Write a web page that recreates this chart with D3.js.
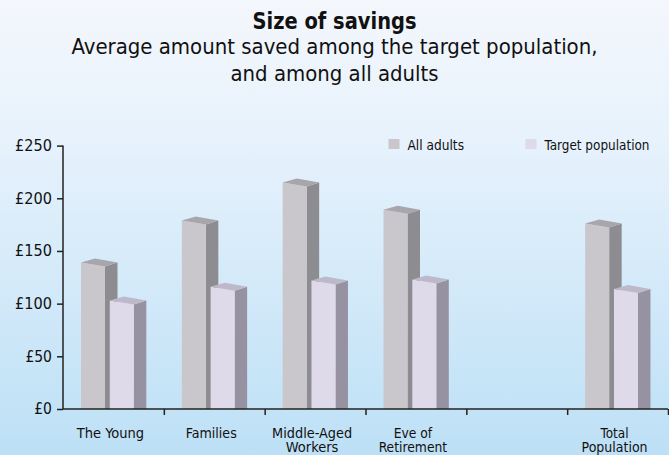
<!DOCTYPE html>
<html>
<head>
<meta charset="utf-8">
<script src="https://cdn.jsdelivr.net/npm/d3@7"></script>
<style>
  html, body { margin: 0; padding: 0; }
  svg { display: block; }
  text { font-family: "Liberation Sans Narrow", "DejaVu Sans Condensed", "Liberation Sans", Arial, sans-serif; fill: #111; }
</style>
</head>
<body>
<svg id="chart" width="669" height="455"></svg>
<script>
// ---- data ----
const categories = ["The Young", "Families", "Middle-Aged\nWorkers", "Eve of\nRetirement", "", "Total\nPopulation"];
const allAdults = [139, 179, 215, 189, null, 176];
const targetPop = [103, 116, 122, 123, null, 114];
const yTicks = [0, 50, 100, 150, 200, 250];
const seriesNames = ["All adults", "Target population"];
const titleText = "Size of savings";
const subtitleLines = ["Average amount saved among the target population,", "and among all adults"];

(function () {
// ---- layout ----
const W = 669, H = 455;
const plotLeft = 63, plotRight = 668, plotBase = 409, plotTop = 145.6;
const svg = d3.select("#chart");

// fit a text element to a width measured from the reference (condensed face)
function fit(sel, w) {
  sel.each(function () {
    const n = this;
    const len = n.getComputedTextLength();
    if (len > 0 && Math.abs(len - w) > 1) {
      d3.select(n).attr("textLength", w).attr("lengthAdjust", "spacingAndGlyphs");
    }
  });
}

// background gradient
const defs = svg.append("defs");
const grad = defs.append("linearGradient").attr("id", "bg").attr("x1", 0).attr("y1", 0).attr("x2", 0).attr("y2", 1);
grad.append("stop").attr("offset", "0%").attr("stop-color", "#f4f7fc");
grad.append("stop").attr("offset", "30%").attr("stop-color", "#e7f2fc");
grad.append("stop").attr("offset", "100%").attr("stop-color", "#bde0f6");
svg.append("rect").attr("width", W).attr("height", H).attr("fill", "url(#bg)");

// titles
svg.append("text").attr("x", W / 2).attr("y", 28.5).attr("text-anchor", "middle")
  .style("font-weight", "bold").style("font-size", "22.5px").text(titleText).call(fit, 164);
const subW = [526, 208];
svg.selectAll("text.sub").data(subtitleLines).enter().append("text").attr("class", "sub")
  .attr("x", W / 2).attr("y", (d, i) => 54 + i * 26.5).attr("text-anchor", "middle")
  .style("font-size", "21px").text(d => d)
  .each(function (d, i) { d3.select(this).call(fit, subW[i]); });

// scales
const x = d3.scaleBand().domain(d3.range(categories.length)).range([plotLeft, plotRight]).paddingInner(0).paddingOuter(0);
const xEdge = d3.scaleLinear().domain([0, categories.length]).range([plotLeft, plotRight]);
const y = d3.scaleLinear().domain([0, 250]).range([plotBase, plotTop]);

// bars
const step = x.step();
const fw = 24, depth = 12.5, slope = 4;
const series = [
  { values: allAdults, offset: 18, front: "#c9c7cb", side: "#8d8c90", topc: "#a8a6aa" },
  { values: targetPop, offset: 46.8, front: "#dedaea", side: "#9692a1", topc: "#bdb9ca" }
];
const barsG = svg.append("g");
series.forEach(s => {
  s.values.forEach((v, i) => {
    if (v == null) return;
    const x0 = x(i) + s.offset;
    const yT = y(v);
    const g = barsG.append("g");
    g.append("polygon").attr("fill", s.side)
      .attr("points", [[x0 + fw, yT + slope], [x0 + fw + depth, yT], [x0 + fw + depth, plotBase], [x0 + fw, plotBase]].join(" "));
    g.append("polygon").attr("fill", s.front)
      .attr("points", [[x0, yT], [x0 + fw, yT + slope], [x0 + fw, plotBase], [x0, plotBase]].join(" "));
    g.append("polygon").attr("fill", s.topc)
      .attr("points", [[x0, yT], [x0 + fw, yT + slope], [x0 + fw + depth, yT], [x0 + depth + 1.5, yT - slope]].join(" "));
  });
});

// y axis
const yAxis = svg.append("g").attr("transform", `translate(${plotLeft},0)`)
  .call(d3.axisLeft(y).tickValues(yTicks).tickFormat(d => "£" + d).tickSize(6).tickPadding(5));
yAxis.attr("font-family", null);
yAxis.select(".domain").attr("d", `M0,${plotTop}V${plotBase}`).attr("stroke", "#222").attr("stroke-width", 1.5);
yAxis.selectAll(".tick line").attr("stroke", "#222").attr("stroke-width", 1.5);
yAxis.selectAll(".tick text").style("font-size", "15.5px").attr("fill", "#111")
  .each(function (d) { d3.select(this).call(fit, 9.3 * String(d).length + 9); });

// x axis (ticks at category boundaries)
const xAxis = svg.append("g").attr("transform", `translate(0,${plotBase})`)
  .call(d3.axisBottom(xEdge).tickValues(d3.range(1, categories.length + 1)).tickFormat("").tickSize(6));
xAxis.select(".domain").attr("d", `M${plotLeft},0H${plotRight}`).attr("stroke", "#222").attr("stroke-width", 1.5);
xAxis.selectAll(".tick line").attr("stroke", "#222").attr("stroke-width", 1.5);

// category labels
const labW = { "The Young": 67, "Families": 51, "Middle-Aged": 80, "Workers": 52, "Eve of": 38.5,
  "Retirement": 68.5, "Total": 28, "Population": 66 };
const lab = svg.append("g");
categories.forEach((c, i) => {
  if (!c) return;
  const cx = x(i) + step / 2 - 3;
  const t = lab.append("text").attr("text-anchor", "middle").style("font-size", "14.5px")
    .attr("x", cx).attr("y", 437.5);
  c.split("\n").forEach((line, j) => {
    t.append("tspan").attr("x", cx).attr("dy", j === 0 ? 0 : 14.5).text(line).call(fit, labW[line] || 60);
  });
});

// legend
const legendX = [388.5, 525.5];
const legW = [56.5, 105];
const lg = svg.append("g");
seriesNames.forEach((n, i) => {
  lg.append("rect").attr("x", legendX[i]).attr("y", 139).attr("width", 11).attr("height", 10).attr("fill", series[i].front);
  lg.append("text").attr("x", legendX[i] + 19).attr("y", 149.5).style("font-size", "14.5px").text(n).call(fit, legW[i]);
});
})();
</script>
</body>
</html>
